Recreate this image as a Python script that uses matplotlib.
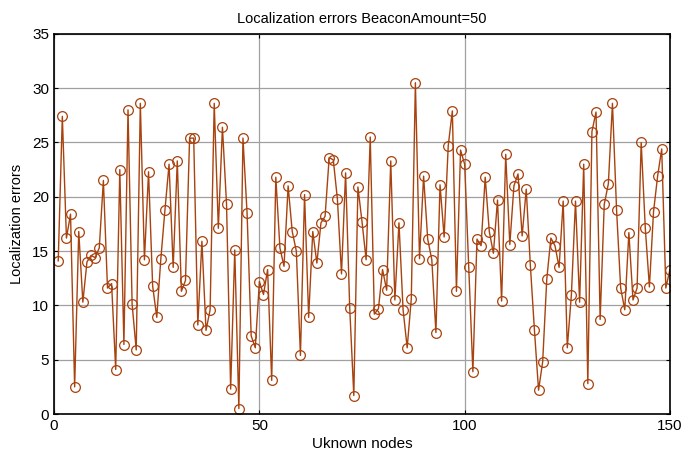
import matplotlib
matplotlib.use('Agg')
import matplotlib.pyplot as plt

# localization error of each unknown node
errors = [
    14.1, 27.4, 16.2, 18.4, 2.5, 16.8, 10.3, 14.0, 14.6, 14.4,
    15.3, 21.5, 11.6, 12.0, 4.1, 22.5, 6.4, 28.0, 10.1, 5.9,
    28.6, 14.2, 22.3, 11.8, 8.9, 14.3, 18.8, 23.0, 13.5, 23.3,
    11.3, 12.3, 25.4, 25.4, 8.2, 15.9, 7.7, 9.6, 28.6, 17.1,
    26.4, 19.3, 2.3, 15.1, 0.5, 25.4, 18.5, 7.2, 6.1, 12.2,
    11.0, 13.3, 3.1, 21.8, 15.3, 13.6, 21.0, 16.8, 15.0, 5.4,
    20.2, 8.9, 16.8, 13.9, 17.6, 18.2, 23.6, 23.4, 19.8, 12.9,
    22.2, 9.8, 1.7, 20.9, 17.7, 14.2, 25.5, 9.2, 9.7, 13.3,
    11.4, 23.3, 10.5, 17.6, 9.6, 6.1, 10.6, 30.5, 14.3, 21.9,
    16.1, 14.2, 7.5, 21.1, 16.3, 24.7, 27.9, 11.3, 24.3, 23.0,
    13.5, 3.9, 16.1, 15.5, 21.8, 16.8, 14.8, 19.7, 10.4, 23.9,
    15.6, 21.0, 22.1, 16.4, 20.7, 13.7, 7.7, 2.2, 4.8, 12.4,
    16.2, 15.5, 13.5, 19.6, 6.1, 11.0, 19.6, 10.3, 23.0, 2.8,
    26.0, 27.8, 8.7, 19.3, 21.2, 28.6, 18.8, 11.6, 9.6, 16.7,
    10.5, 11.6, 25.0, 17.1, 11.7, 18.6, 21.9, 24.4, 11.6, 13.3,
]
nodes = list(range(1, len(errors) + 1))

plt.rcParams['font.family'] = ['Liberation Sans', 'DejaVu Sans']

fig = plt.figure(figsize=(6.85, 4.57), dpi=100)
ax = fig.add_axes([0.079, 0.094, 0.899, 0.832])

ax.plot(nodes, errors, color='#A8420E', linewidth=1.0, marker='o',
        markersize=7, markerfacecolor='none', markeredgecolor='#A8420E',
        markeredgewidth=0.9)

ax.set_xlim(0, 150)
ax.set_ylim(0, 35)
ax.set_xticks([0, 50, 100, 150])
ax.set_yticks(range(0, 36, 5))
ax.grid(True, color='#a0a0a0', linestyle='-', linewidth=0.9)
ax.set_axisbelow(True)
ax.tick_params(direction='in', top=True, right=True, labelsize=11, length=3)
for s in ax.spines.values():
    s.set_linewidth(1.2)

ax.set_title('Localization errors BeaconAmount=50', fontsize=10.5, pad=8)
ax.set_xlabel('Uknown nodes', fontsize=11, labelpad=3)
ax.set_ylabel('Localization errors', fontsize=10.5, labelpad=6)

fig.savefig('out.png', dpi=100)
